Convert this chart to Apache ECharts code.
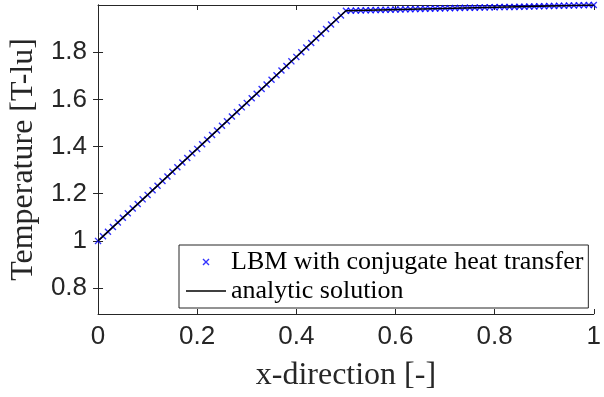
<!DOCTYPE html>
<html>
<head>
<meta charset="utf-8">
<script src="https://cdn.jsdelivr.net/npm/echarts@6/dist/echarts.min.js"></script>
<style>
html,body{margin:0;padding:0;background:#fff;}
#chart{width:604px;height:397px;}
</style>
</head>
<body>
<div id="chart"></div>
<script>
// LBM samples (x positions and temperatures)
const lbmX = [0.00,0.01,0.02,0.03,0.04,0.05,0.06,0.07,0.08,0.09,0.10,0.11,0.12,0.13,0.14,0.15,0.16,0.17,0.18,0.19,0.20,0.21,0.22,0.23,0.24,0.25,0.26,0.27,0.28,0.29,0.30,0.31,0.32,0.33,0.34,0.35,0.36,0.37,0.38,0.39,0.40,0.41,0.42,0.43,0.44,0.45,0.46,0.47,0.48,0.49,0.50,0.51,0.52,0.53,0.54,0.55,0.56,0.57,0.58,0.59,0.60,0.61,0.62,0.63,0.64,0.65,0.66,0.67,0.68,0.69,0.70,0.71,0.72,0.73,0.74,0.75,0.76,0.77,0.78,0.79,0.80,0.81,0.82,0.83,0.84,0.85,0.86,0.87,0.88,0.89,0.90,0.91,0.92,0.93,0.94,0.95,0.96,0.97,0.98,0.99,1.00];
const lbmT = [1.000,1.020,1.039,1.059,1.078,1.098,1.117,1.137,1.156,1.176,1.195,1.215,1.234,1.254,1.273,1.293,1.312,1.332,1.351,1.371,1.390,1.410,1.429,1.449,1.468,1.488,1.507,1.527,1.546,1.566,1.585,1.605,1.624,1.644,1.663,1.683,1.702,1.722,1.741,1.761,1.780,1.800,1.820,1.839,1.859,1.878,1.898,1.917,1.937,1.956,1.976,1.976,1.977,1.977,1.978,1.978,1.979,1.979,1.980,1.980,1.981,1.981,1.982,1.982,1.983,1.983,1.984,1.984,1.985,1.985,1.986,1.986,1.987,1.987,1.988,1.988,1.988,1.989,1.989,1.990,1.990,1.991,1.991,1.992,1.992,1.993,1.993,1.994,1.994,1.995,1.995,1.996,1.996,1.997,1.997,1.998,1.998,1.999,1.999,2.000,2.000];
// analytic solution breakpoints
const anaX = [0, 0.5, 1];
const anaT = [1, 1.9756, 2.0];
// tick labels
const xTicks = [0, 0.2, 0.4, 0.6, 0.8, 1];
const yTicks = [0.8, 1, 1.2, 1.4, 1.6, 1.8];
const seriesNames = ['LBM with conjugate heat transfer', 'analytic solution'];

const axisColor = '#262626';
const xMarker = 'path://M0,1.4L1.4,0L10,8.6L8.6,10Z M8.6,0L10,1.4L1.4,10L0,8.6Z';
const lineIcon = 'path://M0,0L40,0L40,1.4L0,1.4Z';

const chart = echarts.init(document.getElementById('chart'), null, {renderer: 'canvas'});
const commonAxis = {
  axisLine: {show: true, lineStyle: {color: axisColor, width: 1}},
  splitLine: {show: false}
};
chart.setOption({
  animation: false,
  backgroundColor: '#fff',
  grid: {left: 97, right: 3, top: 5, bottom: 79, containLabel: false},
  legend: {
    orient: 'vertical',
    left: 179, top: 245,
    data: [{name: seriesNames[0], icon: xMarker}, {name: seriesNames[1], icon: lineIcon}],
    itemWidth: 40, itemHeight: 7, itemGap: 3,
    padding: [4, 5, 4, 7],
    borderColor: '#262626', borderWidth: 1,
    backgroundColor: '#fff',
    textStyle: {fontFamily: 'Liberation Serif', fontSize: 26, color: '#000', lineHeight: 26}
  },
  xAxis: [{
    ...commonAxis,
    type: 'value', min: 0, max: 1, interval: 0.2,
    name: 'x-direction [-]', nameLocation: 'middle', nameGap: 46,
    nameTextStyle: {fontFamily: 'Liberation Serif', fontSize: 32, color: '#262626'},
    axisTick: {show: true, inside: true, length: 5, lineStyle: {color: axisColor}},
    axisLabel: {show: true, fontFamily: 'Liberation Sans', fontSize: 26, color: '#262626', margin: 10,
      customValues: xTicks, formatter: v => String(+v.toFixed(1))}
  }, {
    ...commonAxis,
    type: 'value', min: 0, max: 1, interval: 0.2, position: 'top',
    axisTick: {show: true, inside: true, length: 5, lineStyle: {color: axisColor}},
    axisLabel: {show: false}
  }],
  yAxis: [{
    ...commonAxis,
    type: 'value', min: 0.69, max: 2.0,
    name: 'Temperature [T-lu]', nameLocation: 'middle', nameGap: 56,
    nameTextStyle: {fontFamily: 'Liberation Serif', fontSize: 32, color: '#262626'},
    axisTick: {show: true, inside: true, length: 5, customValues: yTicks, lineStyle: {color: axisColor}},
    axisLabel: {show: true, fontFamily: 'Liberation Sans', fontSize: 26, color: '#262626', margin: 11,
      customValues: yTicks, formatter: v => String(+v.toFixed(1))}
  }, {
    ...commonAxis,
    type: 'value', min: 0.69, max: 2.0, position: 'right',
    axisTick: {show: true, inside: true, length: 5, customValues: yTicks, lineStyle: {color: axisColor}},
    axisLabel: {show: false}
  }],
  series: [{
    name: seriesNames[0],
    type: 'scatter',
    data: lbmX.map((x, i) => [x, lbmT[i]]),
    symbol: xMarker,
    symbolSize: 7,
    itemStyle: {color: '#0000ff'},
    clip: false,
    z: 2
  }, {
    name: seriesNames[1],
    type: 'line',
    data: anaX.map((x, i) => [x, anaT[i]]),
    showSymbol: false,
    symbol: 'none',
    lineStyle: {color: '#000', width: 1.5},
    itemStyle: {color: '#000'},
    z: 3
  }]
});
</script>
</body>
</html>
